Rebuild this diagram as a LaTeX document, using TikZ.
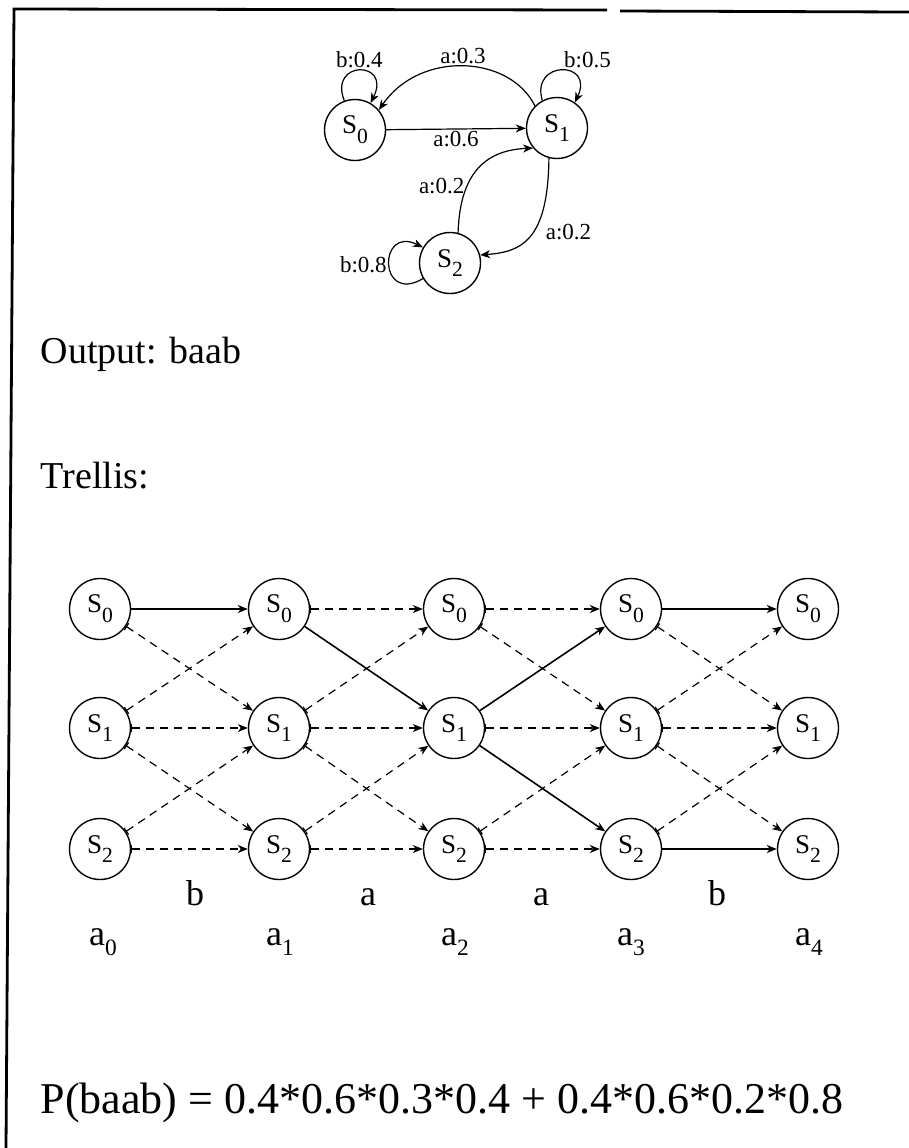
\documentclass[tikz,border=0pt]{standalone}
\usepackage{fontspec}
\setmainfont{Liberation Serif}
\usetikzlibrary{arrows.meta}

% state names with a lowered index
\newcommand{\st}[1]{S\raisebox{-0.36em}{\scalebox{0.8}{#1}}}
\newcommand{\tm}[1]{a\raisebox{-0.3em}{\scalebox{0.65}{#1}}}

\tikzset{
	>={Stealth[length=5pt,width=4pt,inset=1.5pt]},
	state/.style={draw,circle,line width=0.7pt,minimum size=30.5pt,inner sep=0pt,font=\fontsize{13.5}{14}\selectfont},
	lab/.style={inner sep=1pt,font=\fontsize{11.5}{12}\selectfont},
	sym/.style={inner sep=0pt,anchor=base,font=\fontsize{18}{20}\selectfont},
	txt/.style={inner sep=0pt,anchor=base west,font=\fontsize{19}{22}\selectfont},
	path/.style={->,line width=0.8pt},
	alt/.style={{Bar[width=4pt]}->,line width=0.6pt,dash pattern=on 4pt off 3pt}
}

\begin{document}
\begin{tikzpicture}[x=0.5pt,y=-0.5pt,line width=0.6pt]
	\useasboundingbox (0,0) rectangle (909,1148);

	% frame
	\draw[line width=1.4pt] (607,10) -- (14,9) -- (6,1148);
	\draw[line width=1.4pt] (620,11) -- (909,12);

	% the machine
	\node[state] (s0) at (355,130) {\st{0}};
	\node[state] (s1) at (557,128) {\st{1}};
	\node[state] (s2) at (450,263) {\st{2}};

	\draw[->] (s0) -- (s1) node[below,midway,lab] {a:0.6};
	\draw[->] (s1.135) .. controls (510,55) and (420,50) .. (s0.40) node[above,midway,lab] {a:0.3};
	\draw[->] (s2.75) .. controls (460,168) and (490,150) .. (s1.220) node[left,pos=0.3,lab] {a:0.2};
	\draw[->] (s1.255) .. controls (548,240) and (522,252) .. (s2.15) node[right=5pt,pos=0.45,lab] {a:0.2};

	\draw[->] (s0.110) .. controls (328,60) and (392,60) .. (s0.60) node[above,midway,lab] {b:0.4};
	\draw[->] (s1.118) .. controls (530,60) and (595,60) .. (s1.55) node[above right,midway,lab] {b:0.5};
	\draw[->] (s2.210) .. controls (378,305) and (378,225) .. (s2.150) node[left,midway,lab] {b:0.8};

	\node[txt] (output) at (40,363) {Output: baab};
	\node[txt] (trellis) at (40,488) {Trellis:};

	% trellis
	\node[state] (s0a0) at (100,609) {\st{0}};
	\node[state] (s1a0) at (100,728) {\st{1}};
	\node[state] (s2a0) at (100,849) {\st{2}};

	\node[state] (s0a1) at (279,609) {\st{0}};
	\node[state] (s1a1) at (279,728) {\st{1}};
	\node[state] (s2a1) at (279,849) {\st{2}};

	\node[state] (s0a2) at (454,609) {\st{0}};
	\node[state] (s1a2) at (454,728) {\st{1}};
	\node[state] (s2a2) at (454,849) {\st{2}};

	\node[state] (s0a3) at (631,609) {\st{0}};
	\node[state] (s1a3) at (631,728) {\st{1}};
	\node[state] (s2a3) at (631,849) {\st{2}};

	\node[state] (s0a4) at (808,609) {\st{0}};
	\node[state] (s1a4) at (808,728) {\st{1}};
	\node[state] (s2a4) at (808,849) {\st{2}};

	% b
	\draw[path] (s0a0) -- (s0a1);
	\draw[alt] (s0a0) -- (s1a1);
	\draw[alt] (s1a0) -- (s0a1);
	\draw[alt] (s1a0) -- (s1a1);
	\draw[alt] (s1a0) -- (s2a1);
	\draw[alt] (s2a0) -- (s1a1);
	\draw[alt] (s2a0) -- (s2a1);

	% a
	\draw[alt] (s0a1) -- (s0a2);
	\draw[path] (s0a1) -- (s1a2);
	\draw[alt] (s1a1) -- (s0a2);
	\draw[alt] (s1a1) -- (s1a2);
	\draw[alt] (s1a1) -- (s2a2);
	\draw[alt] (s2a1) -- (s1a2);
	\draw[alt] (s2a1) -- (s2a2);

	% a
	\draw[alt] (s0a2) -- (s0a3);
	\draw[alt] (s0a2) -- (s1a3);
	\draw[path] (s1a2) -- (s0a3);
	\draw[alt] (s1a2) -- (s1a3);
	\draw[path] (s1a2) -- (s2a3);
	\draw[alt] (s2a2) -- (s1a3);
	\draw[alt] (s2a2) -- (s2a3);

	% b
	\draw[path] (s0a3) -- (s0a4);
	\draw[alt] (s0a3) -- (s1a4);
	\draw[alt] (s1a3) -- (s0a4);
	\draw[alt] (s1a3) -- (s1a4);
	\draw[alt] (s1a3) -- (s2a4);
	\draw[alt] (s2a3) -- (s1a4);
	\draw[path] (s2a3) -- (s2a4);

	\node[sym] (o1) at (195,905) {b};
	\node[sym] (o2) at (368,905) {a};
	\node[sym] (o3) at (541,905) {a};
	\node[sym] (o4) at (717,905) {b};

	\node[sym] (a0) at (103,945) {\tm{0}};
	\node[sym] (a1) at (280,945) {\tm{1}};
	\node[sym] (a2) at (455,945) {\tm{2}};
	\node[sym] (a3) at (631,945) {\tm{3}};
	\node[sym] (a4) at (809,945) {\tm{4}};

	\node[txt,font=\fontsize{22}{24}\selectfont] (prob) at (40,1113) {P(baab) = 0.4*0.6*0.3*0.4 + 0.4*0.6*0.2*0.8};
\end{tikzpicture}
\end{document}
